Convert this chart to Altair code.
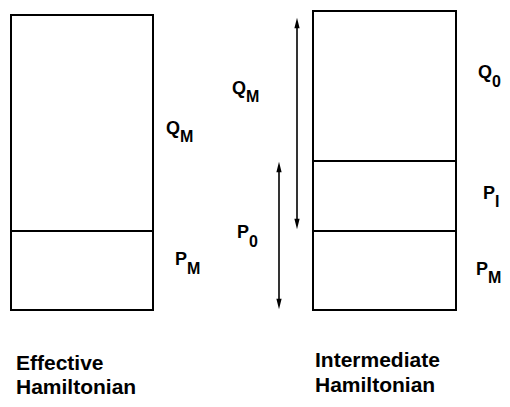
import altair as alt
import pandas as pd

# --- diagram data (pixel-space coordinates) ---
box_x0 = [11, 313]
box_x1 = [153, 456]
box_y0 = [15, 11]
box_y1 = [310, 310]

div_x0 = [11, 313, 313]
div_x1 = [153, 456, 456]
div_y = [231, 161, 231]

arrow_x = [297, 279]
arrow_top = [18, 162]
arrow_bot = [229, 309]

lab_main = ["Q", "P", "Q", "P", "Q", "P", "P"]
lab_x = [166, 175, 232, 237, 478, 483, 476]
lab_y = [134, 265, 94, 238, 78, 199, 275]
lab_sub = ["M", "M", "M", "0", "0", "I", "M"]
sub_x = [180, 187, 246, 249, 492, 495, 488]
sub_y = [142, 274, 102, 247, 87, 207, 283]

title_text = ["Effective", "Hamiltonian", "Intermediate", "Hamiltonian"]
title_x = [16, 16, 315, 315]
title_y = [370, 394, 367, 392]

W, H = 494, 391
xs = alt.Scale(domain=[8, 8 + W], range=[0, W])
ys = alt.Scale(domain=[8 + H, 8], range=[H, 0])

boxes = pd.DataFrame({"x0": box_x0, "x1": box_x1, "y0": box_y0, "y1": box_y1})
divs = pd.DataFrame({"x0": div_x0, "x1": div_x1, "y": div_y})
arrows = pd.DataFrame({"x": arrow_x, "top": arrow_top, "bot": arrow_bot})
arrows["shaft_top"] = arrows["top"] + 6
arrows["shaft_bot"] = arrows["bot"] - 6
arrows["head_top"] = arrows["top"] + 5
arrows["head_bot"] = arrows["bot"] - 5
labels = pd.DataFrame({"t": lab_main, "x": lab_x, "y": lab_y})
subs = pd.DataFrame({"t": lab_sub, "x": sub_x, "y": sub_y})
titles = pd.DataFrame({"t": title_text, "x": title_x, "y": title_y})

noaxis = dict(axis=None)

rects = alt.Chart(boxes).mark_rect(fill=None, stroke="black", strokeWidth=2).encode(
    x=alt.X("x0:Q", scale=xs, **noaxis), x2="x1:Q",
    y=alt.Y("y0:Q", scale=ys, **noaxis), y2="y1:Q",
)
dividers = alt.Chart(divs).mark_rule(color="black", strokeWidth=2).encode(
    x=alt.X("x0:Q", scale=xs, **noaxis), x2="x1:Q",
    y=alt.Y("y:Q", scale=ys, **noaxis),
)
shafts = alt.Chart(arrows).mark_rule(color="black", strokeWidth=1.6).encode(
    x=alt.X("x:Q", scale=xs, **noaxis),
    y=alt.Y("shaft_top:Q", scale=ys, **noaxis), y2="shaft_bot:Q",
)
heads_up = alt.Chart(arrows).mark_point(
    shape="M0,-1L0.5,1L-0.5,1Z", filled=True, color="black", opacity=1, size=110
).encode(
    x=alt.X("x:Q", scale=xs, **noaxis),
    y=alt.Y("head_top:Q", scale=ys, **noaxis),
)
heads_down = alt.Chart(arrows).mark_point(
    shape="M0,1L0.5,-1L-0.5,-1Z", filled=True, color="black", opacity=1, size=110
).encode(
    x=alt.X("x:Q", scale=xs, **noaxis),
    y=alt.Y("head_bot:Q", scale=ys, **noaxis),
)
txt_main = alt.Chart(labels).mark_text(
    align="left", baseline="alphabetic", font="Liberation Sans", fontWeight="bold",
    fontSize=18, color="black"
).encode(
    x=alt.X("x:Q", scale=xs, **noaxis), y=alt.Y("y:Q", scale=ys, **noaxis), text="t:N"
)
txt_sub = alt.Chart(subs).mark_text(
    align="left", baseline="alphabetic", font="Liberation Sans", fontWeight="bold",
    fontSize=16, color="black"
).encode(
    x=alt.X("x:Q", scale=xs, **noaxis), y=alt.Y("y:Q", scale=ys, **noaxis), text="t:N"
)
txt_title = alt.Chart(titles).mark_text(
    align="left", baseline="alphabetic", font="Liberation Sans", fontWeight="bold",
    fontSize=21, color="black"
).encode(
    x=alt.X("x:Q", scale=xs, **noaxis), y=alt.Y("y:Q", scale=ys, **noaxis), text="t:N"
)

chart = alt.layer(
    rects, dividers, shafts, heads_up, heads_down, txt_main, txt_sub, txt_title
).properties(
    width=W, height=H, autosize=alt.AutoSizeParams(type="none"), padding=0
).configure_view(stroke=None)

chart.save("out.html", embed_options={"renderer": "svg", "actions": False})
